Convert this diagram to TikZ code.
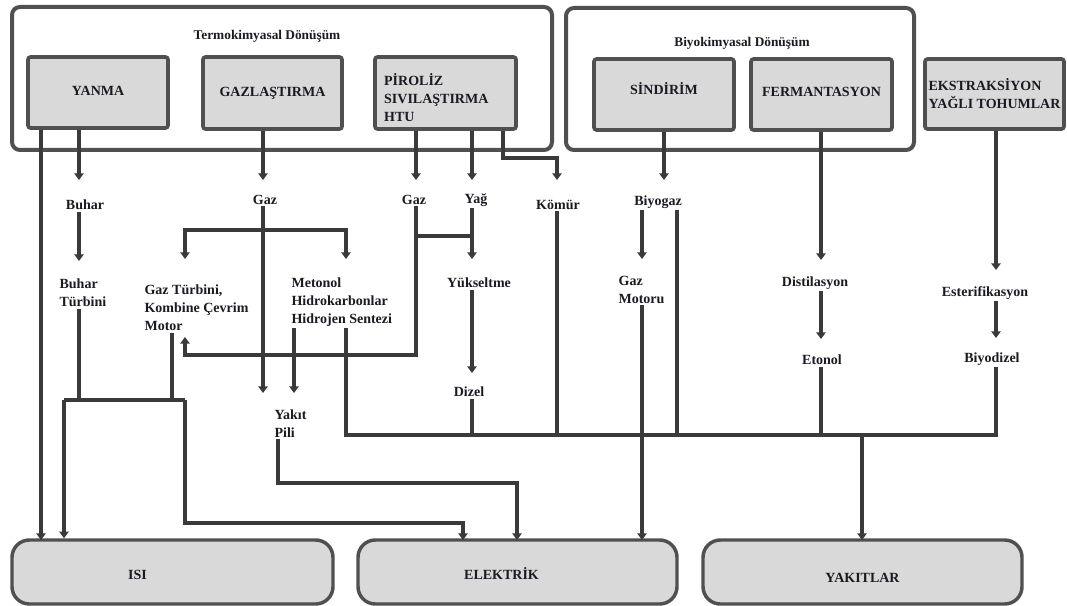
\documentclass[tikz,border=0pt]{standalone}
\usepackage{fontspec}
\setmainfont{Liberation Serif}
\usetikzlibrary{arrows.meta,calc}
\definecolor{boxgray}{HTML}{505050}
\definecolor{linegray}{HTML}{3A3A3A}
\definecolor{procfill}{HTML}{D9D9D9}
\definecolor{txt}{HTML}{1A1A22}
\begin{document}
\begin{tikzpicture}[x=0.75pt,y=-0.75pt,
  every node/.style={font=\rmfamily\bfseries\fontsize{10.5}{13.5}\selectfont, text=txt, inner sep=1pt},
  grp/.style={draw=boxgray, line width=3pt, rounded corners=6pt, fill=white},
  proc/.style={draw=boxgray, line width=2.8pt, rounded corners=2pt, fill=procfill, align=left},
  outb/.style={draw=boxgray, line width=2.6pt, rounded corners=13pt, fill=procfill, minimum width=239.25pt, minimum height=48pt},
  lbl/.style={align=left},
  ln/.style={draw=linegray, line width=2.8pt},
  arr/.style={ln, -{Triangle[length=5pt,width=7pt]}}]
\useasboundingbox (0,0) rectangle (1067,606);

% group boxes
\node[grp, minimum width=405pt, minimum height=107.25pt] (termo) at (282,78.5) {};
\node[grp, minimum width=261pt, minimum height=106.5pt] (bio) at (740,79) {};
\node (termoT) at (267,36) {\fontsize{10}{12}\selectfont Termokimyasal Dönüşüm};
\node (bioT) at (742,43) {\fontsize{10}{12}\selectfont Biyokimyasal Dönüşüm};

% process boxes
\node[proc, minimum width=105pt, minimum height=53.25pt] (yanma) at (98,92.5) {\raisebox{1.5pt}[\height][\depth]{YANMA}};
\node[proc, minimum width=104.25pt, minimum height=54pt] (gazl) at (272.5,93) {GAZLAŞTIRMA};
\node[proc, minimum width=105.75pt, minimum height=54pt] (piroliz) at (445.5,93) {\raisebox{-3.75pt}[\height][\depth]{\parbox{92pt}{PİROLİZ\\SIVILAŞTIRMA\\HTU}}};
\node[proc, minimum width=105pt, minimum height=53.25pt] (sindirim) at (664,94.5) {\raisebox{4.5pt}[\height][\depth]{SİNDİRİM}};
\node[proc, minimum width=105.75pt, minimum height=53.25pt] (ferm) at (821.5,94.5) {\raisebox{2pt}[\height][\depth]{FERMANTASYON}};
\node[proc, minimum width=104.25pt, minimum height=52.5pt] (ekstr) at (994.5,94) {EKSTRAKSİYON\\YAĞLI TOHUMLAR};

% output boxes
\node[outb, minimum width=240.75pt] (isi) at (172.5,572) {\raisebox{-2.25pt}[\height][\depth]{\makebox[0pt]{\hspace{-52.5pt}ISI}}};
\node[outb] (elek) at (517.5,572) {\raisebox{-1pt}[\height][\depth]{\makebox[0pt]{\hspace{-24pt}ELEKTRİK}}};
\node[outb] (yakit) at (862.5,572) {\raisebox{-4.5pt}[\height][\depth]{YAKITLAR}};

% labels
\node (buhar) at (85,205) {Buhar};
\node[lbl, anchor=west] (buharT) at (58,293) {Buhar\\Türbini};
\node (gaz1) at (265,200) {Gaz};
\node[lbl, anchor=west] (gazTurb) at (143,308) {Gaz Türbini,\\Kombine Çevrim\\Motor};
\node[lbl, anchor=west] (metanol) at (290,302) {Metonol\\Hidrokarbonlar\\Hidrojen Sentezi};
\node[lbl, anchor=west] (yakitpili) at (273,424) {Yakıt\\Pili};
\node (gaz2) at (414,200) {Gaz};
\node (yag) at (476,200) {Yağ};
\node (komur) at (558,205) {Kömür};
\node (yukseltme) at (479,283) {Yükseltme};
\node (dizel) at (469,392) {Dizel};
\node (biyogaz) at (658,202) {Biyogaz};
\node[lbl, anchor=west] (gazmotor) at (617,290) {Gaz\\Motoru};
\node (distilasyon) at (815,283) {Distilasyon};
\node (etanol) at (822,360) {Etonol};
\node (ester) at (985,293) {Esterifikasyon};
\node (biyodizel) at (992,359) {Biyodizel};

% named points
\coordinate (isiA) at (41,540);
\coordinate (tB) at (79,180);
\coordinate (tBT) at (79,261);
\coordinate (jL) at (64,400);
\coordinate (jR) at (185,400);
\coordinate (mB) at (172,400);
\coordinate (jR2) at (185,523);
\coordinate (eA) at (463,540);
\coordinate (tG1) at (263,180);
\coordinate (tYP1) at (263,393);
\coordinate (jG) at (263,230);
\coordinate (tGT) at (185,259);
\coordinate (tMe) at (346,259);
\coordinate (tYP2) at (294,393);
\coordinate (bL) at (346,435);
\coordinate (bR) at (996,435);
\coordinate (tG2) at (416,180);
\coordinate (tY) at (472,180);
\coordinate (kA) at (503,158);
\coordinate (tK) at (557,180);
\coordinate (jP) at (416,355);
\coordinate (tGT2) at (185,337);
\coordinate (jGY1) at (416,236);
\coordinate (jGY2) at (472,236);
\coordinate (tYk) at (472,259);
\coordinate (tD) at (472,373);
\coordinate (tBg) at (664,180);
\coordinate (tGM) at (642,259);
\coordinate (bg2) at (677,435);
\coordinate (eB) at (642,540);
\coordinate (tDs) at (821,260);
\coordinate (tEt) at (821,339);
\coordinate (tEs) at (996,270);
\coordinate (tBd) at (996,338);
\coordinate (yK) at (862,540);
\coordinate (fp) at (278,483);
\coordinate (eC) at (517,540);

% connectors: thermochemical
\draw[arr] (yanma.south -| isiA) -- (isiA);
\draw[arr] (yanma.south -| tB) -- (tB);
\draw[arr] (buhar.south -| tBT) -- (tBT);
\draw[ln] (buharT.south -| tBT) -- (tBT |- jL);
\draw[ln] (gazTurb.south -| mB) -- (mB);
\draw[ln] (jL) -- (jR);
\draw[arr] (jL) -- (jL |- isi.north);
\draw[arr] (jR) -- (jR2) -- (jR2 -| eA) -- (eA);

\draw[arr] (gazl.south -| tG1) -- (tG1);
\draw[arr] (gaz1.south -| tYP1) -- (tYP1);
\draw[arr] (jG) -| (tGT);
\draw[arr] (jG) -| (tMe);
\draw[arr] (metanol.south -| tYP2) -- (tYP2);
\draw[arr] (yakitpili.south -| fp) -- (fp) -- (fp -| eC) -- (eC);

\draw[arr] (piroliz.south -| tG2) -- (tG2);
\draw[arr] (piroliz.south -| tY) -- (tY);
\draw[arr] (piroliz.south -| kA) -- (kA) -- (kA -| tK) -- (tK);
\draw[arr] (gaz2.south -| jP) -- (jP) -- (jP -| tGT2) -- (tGT2);
\draw[ln] (jGY1) -- (jGY2);
\draw[arr] (yag.south -| tYk) -- (tYk);
\draw[arr] (yukseltme.south -| tD) -- (tD);

% fuel collector bar
\draw[ln] (biyodizel.south -| bR) -- (bR) -- (bL) -- (metanol.south -| bL);
\draw[ln] (dizel.south -| tD) -- (tD |- bL);
\draw[ln] (komur.south -| tK) -- (tK |- bL);
\draw[ln] (biyogaz.south -| bg2) -- (bg2);
\draw[ln] (etanol.south -| tEt) -- (tEt |- bL);
\draw[arr] (yK |- bL) -- (yK);

% biochemical
\draw[arr] (sindirim.south -| tBg) -- (tBg);
\draw[arr] (biyogaz.south -| tGM) -- (tGM);
\draw[arr] (gazmotor.south -| eB) -- (eB);
\draw[arr] (ferm.south -| tDs) -- (tDs);
\draw[arr] (distilasyon.south -| tEt) -- (tEt);
\draw[arr] (ekstr.south -| tEs) -- (tEs);
\draw[arr] (ester.south -| tBd) -- (tBd);
\end{tikzpicture}
\end{document}
